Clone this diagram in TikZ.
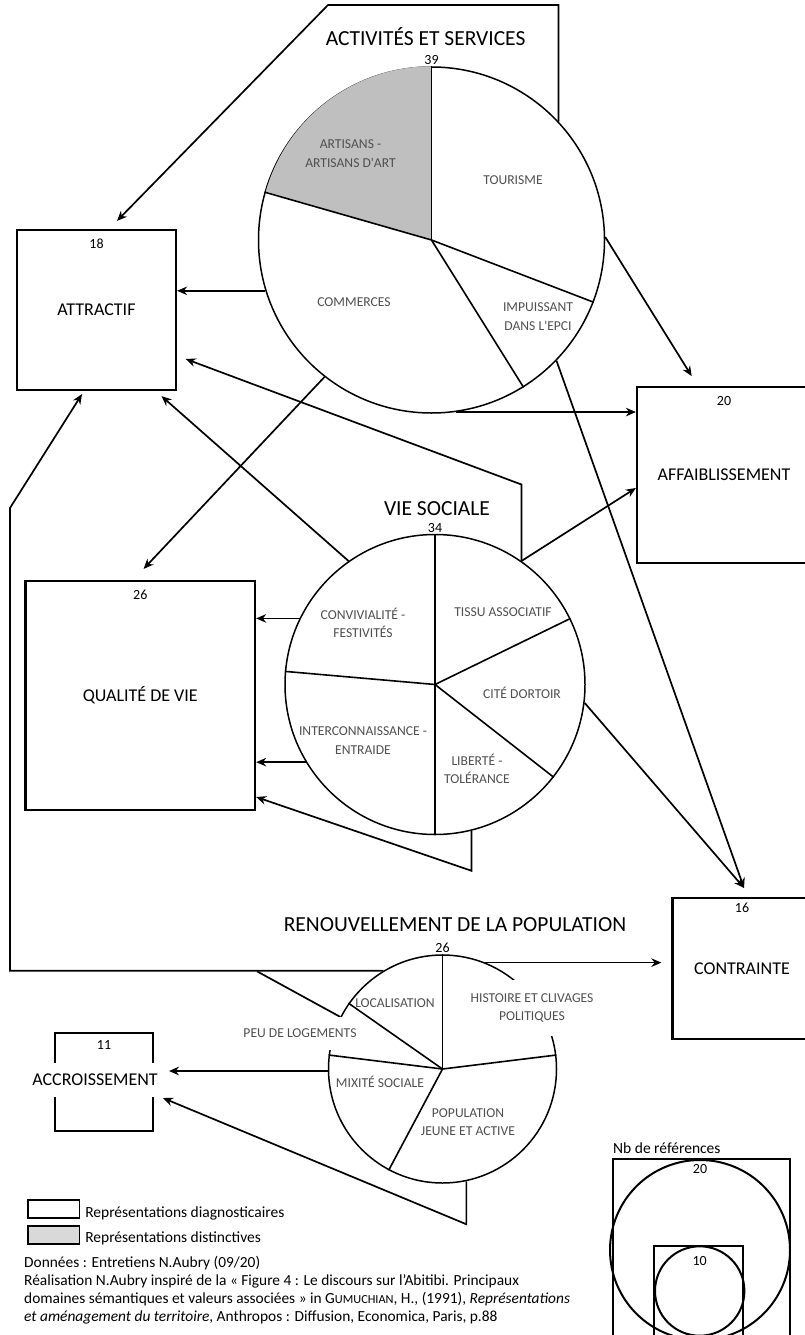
\documentclass[tikz,border=0pt]{standalone}
\usepackage{fontspec}
\setmainfont{Carlito}
\usepackage{xcolor}
\usepackage{tikz}
\usetikzlibrary{arrows.meta,positioning,calc,backgrounds}
\definecolor{inkK}{HTML}{000000}
\definecolor{txtG}{HTML}{505050}
\definecolor{cSlice}{HTML}{BFBFBF}
\definecolor{lGrey}{HTML}{D9D9D9}

\begin{document}
\begin{tikzpicture}[x=1pt, y=1pt,
    valbox/.style={draw=inkK, line width=2.2pt, inner sep=0pt, text=inkK,
      font=\fontsize{18}{21}\selectfont},
    pie/.style={circle, draw=inkK, fill=white, line width=1.5pt, inner sep=0pt},
    slice/.style={draw=inkK, line width=1.6pt},
    pielab/.style={text=txtG, align=center, inner sep=1pt,
      font=\fontsize{13.6}{18.5}\selectfont},
    numlab/.style={text=inkK, inner sep=0pt, font=\fontsize{14}{16}\selectfont},
    ttl/.style={text=inkK, inner sep=0pt, font=\fontsize{21.5}{25}\selectfont},
    link/.style={draw=inkK, line width=1.7pt},
    arr/.style={link, -{Stealth[length=10pt, width=8.5pt]}},
    note/.style={text=inkK, inner sep=0pt, anchor=west, align=left,
      font=\fontsize{15.4}{18}\selectfont}]
  \useasboundingbox (0,0) rectangle (804,-1335);

  % valeurs
  \node[valbox, minimum width=159pt, minimum height=160pt] (attr) at (96.5,-310) {ATTRACTIF};
  \node[valbox, minimum width=229.5pt, minimum height=229pt] (qual) at (140.3,-695.5) {QUALITÉ DE VIE};
  \node[valbox, minimum width=174pt, minimum height=175.5pt] (affa) at (724,-475) {AFFAIBLISSEMENT};
  \node[valbox, minimum width=139pt, minimum height=141pt] (cont) at (742,-968.5) {CONTRAINTE};
  \node[valbox, minimum width=97.7pt, minimum height=97.7pt] (accr) at (104,-1082) {};
  \node[valbox, draw=none, fill=white, inner xsep=2pt, minimum height=34pt] (accrLab) at (95,-1080) {ACCROISSEMENT};

  \node[numlab, below=10.3pt of attr.north] (nAttr) {18};
  \node[numlab, below=9.5pt of qual.north] (nQual) {26};
  \node[numlab, below=10pt of affa.north] (nAffa) {20};
  \node[numlab, below=5.5pt of cont.north] (nCont) {16};
  \node[numlab, below=8.5pt of accr.north] (nAccr) {11};

  % domaines
  \node[pie, minimum size=346pt] (pieA) at (431.5,-240) {};
  \node[pie, minimum size=300pt] (pieV) at (435,-684.5) {};
  \node[pie, minimum size=228pt] (pieR) at (442.5,-1069) {};

  \fill[cSlice] (pieA.center) -- (pieA.90) arc[start angle=90, end angle=164.2, radius=172.3] -- cycle;
  \foreach \a in {90,164.2,339.3,302.3}
    \draw[slice] (pieA.center) -- (pieA.\a);
  \foreach \a in {90,26.4,322.4,270,175.2}
    \draw[slice] (pieV.center) -- (pieV.\a);
  \foreach \a in {90,145.9,173,242.5,7}
    \draw[slice] (pieR.center) -- (pieR.\a);

  \node[numlab, above=1pt of pieA.north] (nA) {39};
  \node[numlab, above=1pt of pieV.north] (nV) {34};
  \node[numlab, above=1pt of pieR.north] (nR) {26};
  \node[ttl] (tA) at (425.6,-36.7) {ACTIVITÉS ET SERVICES};
  \node[ttl] (tV) at (437,-509) {VIE SOCIALE};
  \node[ttl] (tR) at (455,-925) {RENOUVELLEMENT DE LA POPULATION};

  \node[pielab] (lArt) at (350.5,-153.5) {ARTISANS -\\ARTISANS D\textquotesingle ART};
  \node[pielab] (lTour) at (513,-180) {TOURISME};
  \node[pielab] (lComm) at (354,-302) {COMMERCES};
  \node[pielab] (lImp) at (538,-316.5) {IMPUISSANT\\DANS L\textquotesingle EPCI};

  \node[pielab] (lConv) at (363,-623) {CONVIVIALITÉ -\\FESTIVITÉS};
  \node[pielab] (lTissu) at (503,-612) {TISSU ASSOCIATIF};
  \node[pielab] (lCite) at (522,-693) {CITÉ DORTOIR};
  \node[pielab] (lInter) at (363,-740.5) {INTERCONNAISSANCE -\\ENTRAIDE};
  \node[pielab] (lLib) at (477,-769) {LIBERTÉ -\\TOLÉRANCE};

  \node[pielab] (lLoc) at (395,-1003) {LOCALISATION};
  \node[pielab, fill=white, inner xsep=2pt, minimum height=33pt] (lPeu) at (300,-1033) {PEU DE LOGEMENTS};
  \node[pielab] (lMix) at (380,-1082) {MIXITÉ SOCIALE};
  \node[pielab] (lPop) at (468,-1122) {POPULATION\\JEUNE ET ACTIVE};
  \node[pielab, fill=white, minimum height=56pt] (lHist) at (532,-1008) {HISTOIRE ET CLIVAGES\\POLITIQUES};

  % bouts de fleches
  \coordinate (topBend) at (328,-5);
  \coordinate (rail) at (10,-508);
  \coordinate (railJoin) at (257,-971.3);
  \coordinate (attrTop) at ($(attr.north)+(20.5,8)$);
  \coordinate (attrBotL) at ($(attr.south)+(-14.5,-3)$);
  \coordinate (attrBotR) at ($(attr.south)+(65,-5)$);
  \coordinate (attrSide) at ($(attr.east)+(8.6,-49)$);
  \coordinate (qualTop) at ($(qual.north)+(3.3,11)$);
  \coordinate (qualLow) at ($(qual.east)+(0,-101.5)$);
  \coordinate (affaTop) at ($(affa.north)+(-32.3,10)$);
  \coordinate (affaSide) at ($(affa.west)+(0,-13)$);
  \coordinate (contTip) at ($(cont.north)+(2,9)$);
  \coordinate (accrLow) at ($(accr.east)+(9,-16)$);

  \begin{scope}[on background layer]
    \draw[arr] (pieA.197.5) -- (pieA.197.5 -| attr.east);
    \draw[arr] (pieA.1) -- (affaTop);
    \draw[arr] (pieA.278) -- (pieA.278 -| affa.west);
    \draw[arr] (pieA.316) -- (contTip);
    \draw[arr] (pieA.43.5) |- (topBend) -- (attrTop);
    \draw[arr] (pieA.232) -- (qualTop);

    \draw[arr] (pieV.125) -- (attrBotR);
    \draw[arr] (pieV.55) -- ++(0,76.5) -- (attrSide);
    \draw[arr] (pieV.55) -- (affaSide);
    \draw[arr] (pieV.154) -- (pieV.154 -| qual.east);
    \draw[arr] (pieV.211) -- (pieV.211 -| qual.east);
    \draw[arr] (pieV.284) -- ++(0,-40) -- (qualLow);
    \draw[arr] (pieV.353) -- (contTip);

    \draw[arr, shorten >=10pt] (pieR.68) -- (pieR.68 -| cont.west);
    \draw[arr] (pieR.121) -- (pieR.121 -| rail) -- (rail) -- (attrBotL);
    \draw[link] (pieR.153) -- (railJoin);
    \draw[arr, shorten >=15pt] (pieR.181.5) -- (pieR.181.5 -| accr.east);
    \draw[arr] (pieR.282) -- ++(0,-43) -- (accrLow);
  \end{scope}

  % legende
  \node[draw=inkK, line width=1.4pt, minimum width=51.5pt, minimum height=18pt, inner sep=0pt] (legD) at (53.6,-1209) {};
  \node[draw=inkK, fill=lGrey, line width=1.4pt, minimum width=51.5pt, minimum height=18pt, inner sep=0pt] (legS) at (53.6,-1235) {};
  \node[note, right=5pt of legD, yshift=-4pt, font=\fontsize{15.5}{18}\selectfont] (legDT) {Représentations diagnosticaires};
  \node[note, right=5pt of legS, yshift=-3pt, font=\fontsize{15.5}{18}\selectfont] (legST) {Représentations distinctives};
  \node[note, anchor=north west] (src) at (24,-1256) {Données : Entretiens N.Aubry (09/20)\\
    Réalisation N.Aubry inspiré de la « Figure 4 : Le discours sur l’Abitibi. Principaux\\
    domaines sémantiques et valeurs associées » in G{\fontsize{12.3}{18}\selectfont UMUCHIAN}, H., (1991), \textit{Représentations}\\
    \textit{et aménagement du territoire}, Anthropos : Diffusion, Economica, Paris, p.88};

  \node[note, font=\fontsize{15.5}{18}\selectfont] (scaleT) at (613,-1148) {Nb de références};
  \node[draw=inkK, line width=2pt, minimum width=177pt, minimum height=190pt, inner sep=0pt] (sqOut) at (701.5,-1254) {};
  \node[circle, draw=inkK, line width=2pt, minimum size=180pt, inner sep=0pt] (ciOut) at (700,-1250) {};
  \node[draw=inkK, line width=2pt, minimum width=89.3pt, minimum height=95pt, inner sep=0pt] (sqIn) at (698.7,-1293.5) {};
  \node[circle, draw=inkK, line width=2pt, minimum size=89.4pt, inner sep=0pt] (ciIn) at (699.7,-1291) {};
  \node[numlab, below=5.5pt of ciOut.north] (n20) {20};
  \node[numlab, below=11pt of ciIn.north] (n10) {10};
\end{tikzpicture}
\end{document}
